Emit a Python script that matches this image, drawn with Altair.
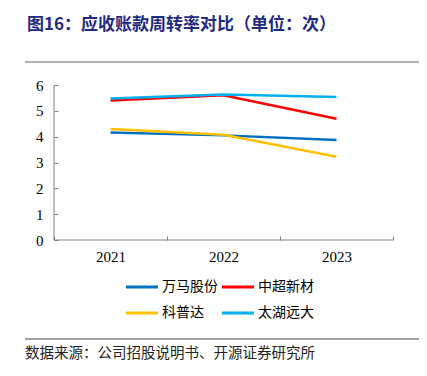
import altair as alt
import pandas as pd

years = ["2021", "2022", "2023"]
series = ["万马股份", "中超新材", "科普达", "太湖远大"]
colors = ["#0070C0", "#FF0000", "#FFC000", "#00B0F0"]
wanma = [4.16, 4.05, 3.87]
zhongchao = [5.40, 5.60, 4.69]
kepuda = [4.30, 4.07, 3.22]
taihu = [5.48, 5.63, 5.54]
y_ticks = [0, 1, 2, 3, 4, 5, 6]

title_text = "图16：应收账款周转率对比（单位：次）"
source_text = "数据来源：公司招股说明书、开源证券研究所"

W, H = 339, 155

rows = []
for name, vals in zip(series, [wanma, zhongchao, kepuda, taihu]):
    for yr, v in zip(years, vals):
        rows.append({"year": yr, "series": name, "value": v, "order": series.index(name)})
df = pd.DataFrame(rows)

color_scale = alt.Scale(domain=series, range=colors)

lines = alt.Chart(df).mark_line(strokeWidth=2.5).encode(
    x=alt.X("year:O", bandPosition=0.5,
            scale=alt.Scale(type="band", paddingInner=0, paddingOuter=0),
            axis=alt.Axis(title=None, labelAngle=0, domain=False, offset=-4,
                          tickSize=4, tickBand="extent", tickColor="#808080",
                          labelFont="Liberation Serif", labelFontSize=15,
                          labelColor="#000", labelPadding=9, grid=False)),
    y=alt.Y("value:Q", scale=alt.Scale(domain=[0, 6], nice=False),
            axis=alt.Axis(title=None, values=y_ticks, domain=False, offset=-4,
                          tickSize=4, tickColor="#808080",
                          labelFont="Liberation Serif", labelFontSize=15,
                          labelColor="#000", labelPadding=11, grid=False)),
    color=alt.Color("series:N", scale=color_scale, legend=None),
    detail="series:N",
    order="order:Q",
)

one = pd.DataFrame({"k": [0]})
ydom = alt.Chart(one).mark_rule(color="#808080", strokeWidth=1).encode(
    x=alt.value(0), y=alt.value(0), y2=alt.value(H))
xdom = alt.Chart(one).mark_rule(color="#808080", strokeWidth=1).encode(
    x=alt.value(0), x2=alt.value(W), y=alt.value(H))

topline = alt.Chart(one).mark_rule(color="#999999", strokeWidth=1.5).encode(
    x=alt.value(-29), x2=alt.value(365), y=alt.value(-23))
botline = alt.Chart(one).mark_rule(color="#444444", strokeWidth=1.2).encode(
    x=alt.value(-29), x2=alt.value(365), y=alt.value(254))

title = alt.Chart(pd.DataFrame({"t": [title_text]})).mark_text(
    align="left", baseline="middle", font="Noto Sans CJK SC", fontSize=17,
    fontWeight="bold", color="#1F2A80").encode(
    x=alt.value(-27), y=alt.value(-60), text="t:N")

source = alt.Chart(pd.DataFrame({"t": [source_text]})).mark_text(
    align="left", baseline="middle", font="Noto Sans CJK SC", fontSize=14.5,
    color="#222222").encode(
    x=alt.value(-29), y=alt.value(269), text="t:N")

leg_rows = []
for i, name in enumerate(series):
    col, row = i % 2, i // 2
    x0 = 72 + col * 96
    leg_rows.append({"series": name, "lx": x0, "lx2": x0 + 32, "tx": x0 + 36,
                     "ly": 202 + row * 26})
leg_df = pd.DataFrame(leg_rows)

leg_sym = alt.Chart(leg_df).mark_rule(strokeWidth=3).encode(
    x=alt.X("lx:Q", scale=None, axis=None),
    x2="lx2:Q",
    y=alt.Y("ly:Q", scale=None, axis=None),
    color=alt.Color("series:N", scale=color_scale, legend=None),
)
leg_txt = alt.Chart(leg_df).mark_text(
    align="left", baseline="middle", font="Noto Sans CJK SC", fontSize=14,
    color="#000").encode(
    x=alt.X("tx:Q", scale=None, axis=None),
    y=alt.Y("ly:Q", scale=None, axis=None),
    text="series:N",
)

chart = alt.layer(lines, ydom, xdom, topline, botline, title, source, leg_sym, leg_txt).resolve_scale(
    x="independent", y="independent", color="independent"
).properties(
    width=W, height=H,
    autosize=alt.AutoSizeParams(type="none"),
    padding={"left": 46, "top": 77, "right": 26, "bottom": 126},
    background="white",
).configure_view(stroke=None)

chart.save("out.html", embed_options={"renderer": "svg", "actions": False})
